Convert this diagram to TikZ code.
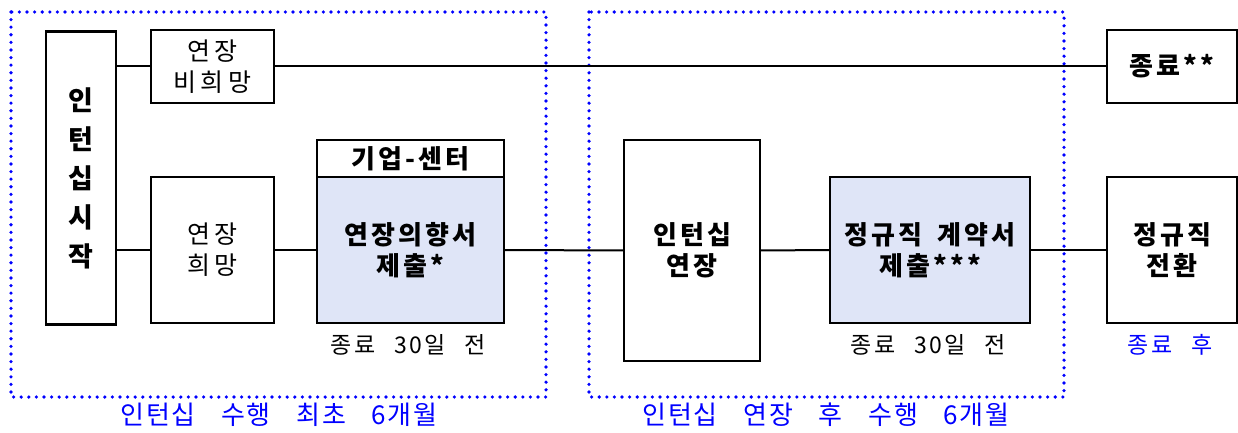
\documentclass[tikz,border=0pt]{standalone}
\usepackage{fontspec}
\setmainfont{Noto Sans CJK KR}
\newfontfamily\plainfont[LetterSpace=18]{Noto Sans CJK KR}
\newfontfamily\strongfont[LetterSpace=12,WordSpace=1.6]{Noto Sans CJK KR}
\newfontfamily\notefont[LetterSpace=10,WordSpace=2.5]{Noto Sans CJK KR}
\newfontfamily\phasefont[LetterSpace=6,WordSpace=3.5]{Noto Sans CJK KR}
\usepackage{tikz}
\usetikzlibrary{positioning}
\definecolor{palefill}{RGB}{223,229,247}

\begin{document}
\begin{tikzpicture}[x=0.5pt, y=-0.5pt,
  box/.style 2 args={draw, line width=1.3pt, inner sep=0pt, outer sep=0pt,
    minimum width=#1*0.5pt, minimum height=#2*0.5pt, align=center,
    font=\plainfont\fontsize{12.5}{15.5}\selectfont},
  boldbox/.style 2 args={box={#1}{#2}, font=\strongfont\fontsize{13}{15.5}\selectfont\bfseries},
  tinted/.style={fill=palefill},
  link/.style={line width=1pt},
  phase/.style={draw=blue, line width=1.8pt, line cap=round, dash pattern=on 0pt off 3.8pt},
  note/.style={font=\notefont\fontsize{11.5}{14}\selectfont},
  phasenote/.style={text=blue, font=\phasefont\fontsize{13}{15}\selectfont}]
  \useasboundingbox (0,0) rectangle (1238,433);
  % dotted phases
  \draw[phase] (11,12) rectangle (546,397);
  \draw[phase] (589,12) rectangle (1064,397);
  % boxes
  \node[boldbox={70}{293}, font=\fontsize{13.5}{19.5}\selectfont\bfseries] (start) at (81,178) {인\\턴\\십\\시\\작};
  \node[box={123}{73}] (nohope) at (212.5,66.5) {연장\\비희망};
  \node[box={123}{146}] (hope) at (212.5,250) {연장\\희망};
  \node[boldbox={187}{37}] (corp) at (410.5,158.5) {기업-센터};
  \node[boldbox={187}{146}, tinted] (intent) at (410.5,250) {연장의향서\\제출*};
  \node[boldbox={136}{221}] (extend) at (692,250.5) {인턴십\\연장};
  \node[boldbox={200}{146}, tinted] (contract) at (930,250) {정규직 계약서\\제출***};
  \node[boldbox={130}{73}] (quit) at (1172,66.5) {종료**};
  \node[boldbox={130}{146}] (convert) at (1172,250) {정규직\\전환};
  % notes
  \node[note] (due1) at (408,345) {종료 30일 전};
  \node[note] (due2) at (928,345) {종료 30일 전};
  \node[note, text=blue] (after) at (1170,345) {종료 후};
  \node[phasenote] (first) at (279,415) {인턴십 수행 최초 6개월};
  \node[phasenote] (second) at (826,415) {인턴십 연장 후 수행 6개월};
  % links
  \draw[link] (start.east |- nohope.west) -- (nohope.west);
  \draw[link] (nohope.east) -- (quit.west);
  \draw[link] (start.east |- hope.west) -- (hope.west);
  \draw[link] (hope.east) -- (intent.west);
  \draw[link] (intent.east) -- (extend.west);
  \draw[link] (extend.east) -- (contract.west);
  \draw[link] (contract.east) -- (convert.west);
\end{tikzpicture}
\end{document}
